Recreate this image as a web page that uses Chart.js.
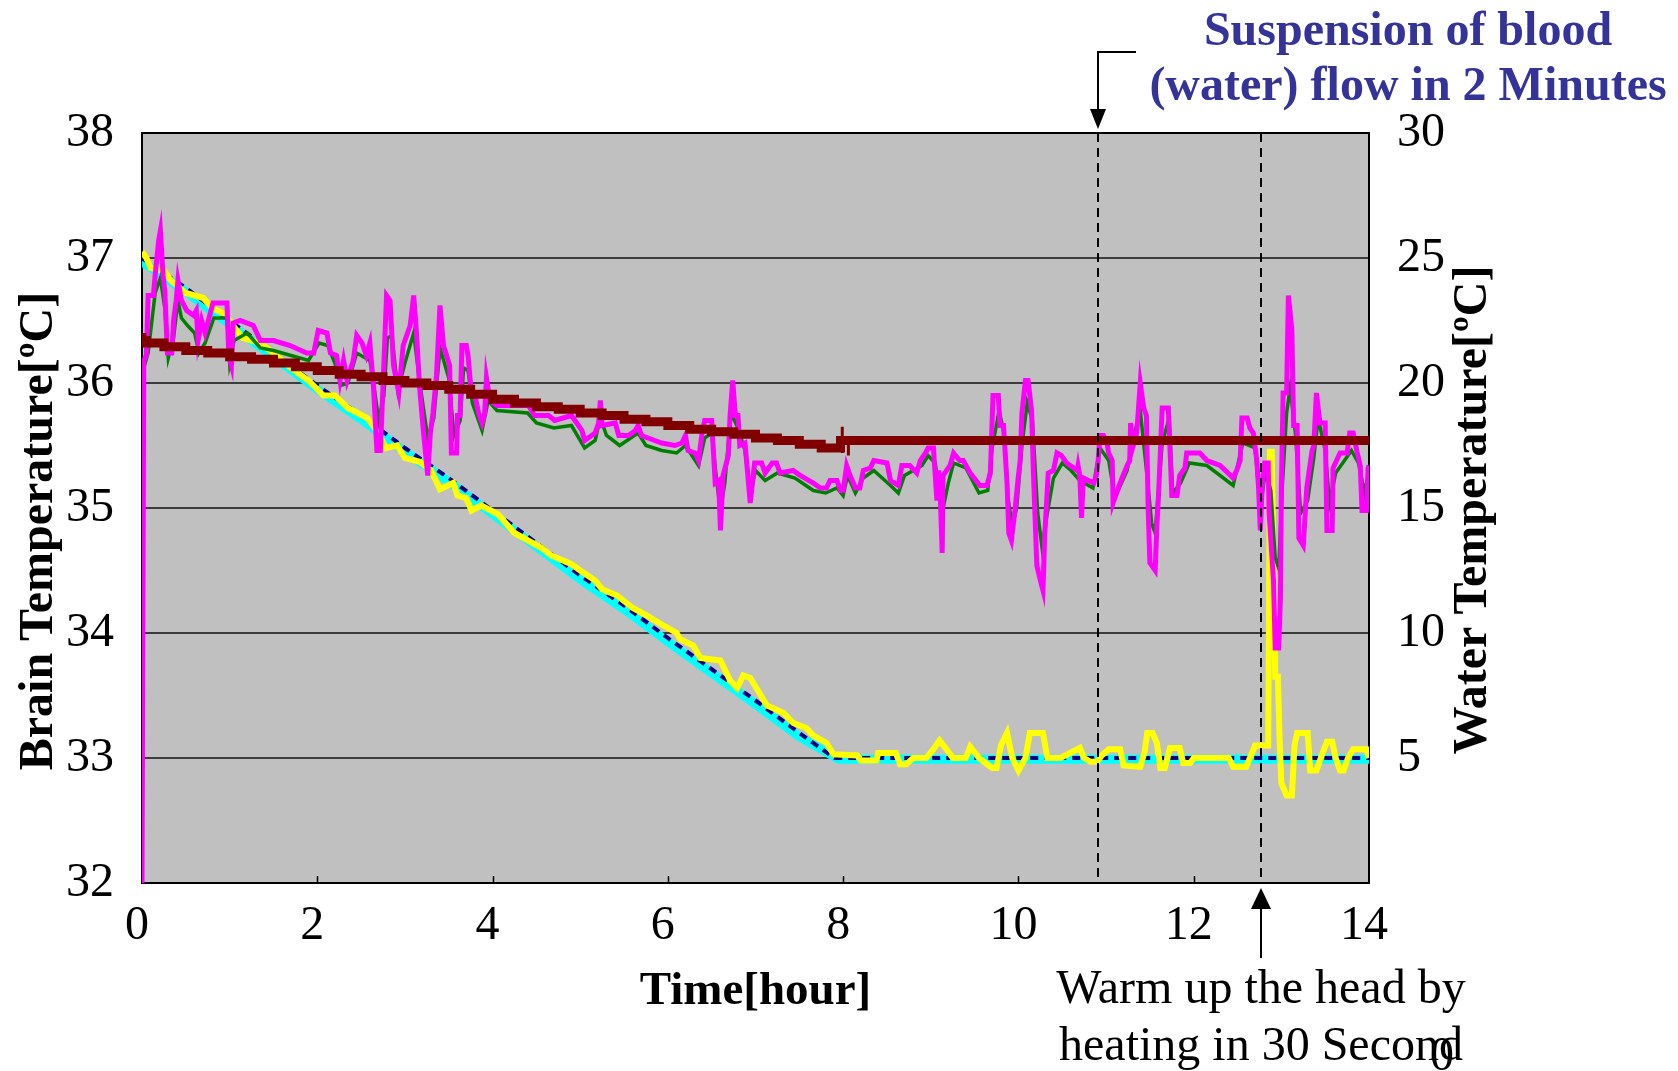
<!DOCTYPE html>
<html>
<head>
<meta charset="utf-8">
<script src="https://cdn.jsdelivr.net/npm/chart.js@4.4.1/dist/chart.umd.min.js"></script>
<style>
  html, body { margin: 0; padding: 0; background: #fff; }
  #wrap { width: 1678px; height: 1071px; }
</style>
</head>
<body>
<div id="wrap"><canvas id="chart" width="1678" height="1071"></canvas></div>
<script>
// --- data (time in hours) ---
// brain temperature sensors (left axis, degC)
var navyHours = [0, 0.5, 1, 1.5, 2, 2.5, 3, 3.5, 4, 4.5, 5, 5.5, 6, 6.5, 7, 7.5, 7.9, 14]
var navyTemp  = [37.0, 36.76, 36.5, 36.24, 35.98, 35.74, 35.48, 35.24, 34.98, 34.72, 34.46, 34.22, 33.96, 33.71, 33.46, 33.2, 33.0, 33.0]

var cyanHours = [0, 0.5, 1, 1.5, 2, 2.5, 3, 3.5, 4, 4.5, 5, 5.5, 6, 6.5, 7, 7.5, 7.95, 14]
var cyanTemp  = [36.97, 36.73, 36.47, 36.21, 35.95, 35.71, 35.45, 35.21, 34.95, 34.69, 34.43, 34.19, 33.93, 33.68, 33.43, 33.17, 32.99, 32.99]

var yellowHours = [0, 0.05, 0.1, 0.25, 0.33, 0.5, 0.7, 0.8, 0.95, 1.05,
  1.15, 1.35, 1.5, 1.7, 1.9, 2.0, 2.07, 2.2, 2.35, 2.57,
  2.7, 2.78, 2.91, 3.0, 3.17, 3.3, 3.4, 3.55, 3.6, 3.7,
  3.76, 3.87, 4.06, 4.25, 4.56, 4.67, 4.9, 5.0, 5.17, 5.25,
  5.42, 5.6, 5.76, 5.9, 6.1, 6.14, 6.29, 6.37, 6.6, 6.71,
  6.79, 6.86, 6.94, 7.13, 7.32, 7.43, 7.58, 7.66, 7.81, 7.89,
  8.16, 8.2, 8.38, 8.4, 8.6, 8.65, 8.72, 8.8, 8.95, 9.03,
  9.1, 9.18, 9.25, 9.4, 9.45, 9.55, 9.7, 9.75, 9.8, 9.87,
  9.93, 10.0, 10.08, 10.13, 10.28, 10.33, 10.48, 10.7, 10.75, 10.82,
  10.9, 10.95, 11.03, 11.16, 11.2, 11.39, 11.44, 11.47, 11.53, 11.58,
  11.62, 11.67, 11.73, 11.84, 11.88, 11.96, 12.0, 12.4, 12.45, 12.6,
  12.7, 12.85, 12.87, 12.89, 12.93, 12.96, 12.98, 13.0, 13.06, 13.12,
  13.15, 13.18, 13.3, 13.33, 13.4, 13.45, 13.52, 13.58, 13.62, 13.67,
  13.71, 13.76, 13.82, 13.97, 14.0]
var yellowTemp = [37.05, 37.0, 36.92, 36.9, 36.82, 36.72, 36.68, 36.6, 36.55, 36.45,
  36.36, 36.32, 36.24, 36.12, 36.02, 35.95, 35.9, 35.9, 35.8, 35.72,
  35.6, 35.48, 35.5, 35.4, 35.37, 35.3, 35.15, 35.2, 35.1, 35.08,
  34.98, 35.02, 34.95, 34.8, 34.68, 34.62, 34.55, 34.5, 34.42, 34.35,
  34.3, 34.2, 34.14, 34.08, 34.0, 33.95, 33.9, 33.8, 33.78, 33.62,
  33.56, 33.66, 33.64, 33.42, 33.36, 33.28, 33.24, 33.18, 33.12, 33.03,
  33.02, 32.98, 32.98, 33.04, 33.04, 32.95, 32.95, 33.0, 33.0, 33.07,
  33.14, 33.07, 33.0, 33.0, 33.09, 33.0, 32.92, 32.92, 33.1, 33.2,
  33.0, 32.9, 33.0, 33.2, 33.2, 33.0, 33.0, 33.08, 33.0, 32.97,
  32.97, 33.02, 33.07, 33.07, 32.94, 32.93, 33.05, 33.2, 33.2, 33.12,
  32.92, 32.92, 33.08, 33.08, 32.96, 32.96, 33.0, 33.0, 32.93, 32.93,
  33.1, 33.1, 35.45, 35.45, 33.65, 33.65, 33.15, 32.8, 32.7, 32.7,
  33.1, 33.2, 33.2, 32.9, 32.9, 33.0, 33.13, 33.13, 33.0, 32.9,
  32.9, 33.0, 33.07, 33.07, 33.0]

// water temperatures (right axis, degC)
var magentaHours = [0, 0.02, 0.05, 0.07, 0.13, 0.15, 0.19, 0.21, 0.24, 0.26,
  0.29, 0.34, 0.36, 0.39, 0.41, 0.45, 0.51, 0.59, 0.62, 0.64,
  0.68, 0.72, 0.78, 0.81, 0.97, 0.99, 1.02, 1.04, 1.12, 1.27,
  1.35, 1.5, 1.69, 1.88, 1.96, 2.01, 2.11, 2.15, 2.22, 2.26,
  2.3, 2.34, 2.41, 2.45, 2.51, 2.56, 2.6, 2.64, 2.68, 2.72,
  2.75, 2.79, 2.83, 2.87, 2.93, 2.98, 3.06, 3.1, 3.13, 3.17,
  3.21, 3.26, 3.29, 3.32, 3.36, 3.4, 3.44, 3.51, 3.53, 3.59,
  3.6, 3.63, 3.65, 3.7, 3.72, 3.76, 3.8, 3.84, 3.88, 3.91,
  3.93, 3.97, 4.05, 4.26, 4.41, 4.48, 4.64, 4.71, 4.9, 5.02,
  5.05, 5.17, 5.21, 5.23, 5.25, 5.4, 5.44, 5.55, 5.63, 5.66,
  5.7, 5.85, 5.93, 6.08, 6.16, 6.2, 6.23, 6.31, 6.35, 6.39,
  6.42, 6.5, 6.54, 6.58, 6.6, 6.63, 6.69, 6.71, 6.74, 6.77,
  6.8, 6.82, 6.88, 6.94, 6.99, 7.07, 7.11, 7.19, 7.24, 7.28,
  7.43, 7.51, 7.66, 7.74, 7.81, 7.85, 7.93, 7.97, 8.0, 8.04,
  8.08, 8.14, 8.19, 8.23, 8.31, 8.35, 8.5, 8.54, 8.63, 8.67,
  8.76, 8.84, 8.88, 8.94, 8.97, 9.03, 9.07, 9.09, 9.11, 9.13,
  9.14, 9.22, 9.26, 9.33, 9.37, 9.45, 9.56, 9.64, 9.68, 9.7,
  9.71, 9.77, 9.79, 9.83, 9.87, 9.89, 9.92, 9.96, 10.0, 10.02,
  10.04, 10.08, 10.11, 10.15, 10.17, 10.21, 10.25, 10.28, 10.3, 10.34,
  10.4, 10.44, 10.49, 10.55, 10.67, 10.68, 10.7, 10.72, 10.74, 10.86,
  10.89, 10.91, 10.93, 10.97, 11.01, 11.03, 11.07, 11.08, 11.12, 11.16,
  11.24, 11.27, 11.28, 11.31, 11.35, 11.39, 11.43, 11.46, 11.48, 11.5,
  11.56, 11.58, 11.6, 11.64, 11.71, 11.73, 11.75, 11.81, 11.84, 11.9,
  11.92, 12.07, 12.15, 12.3, 12.42, 12.45, 12.49, 12.53, 12.55, 12.61,
  12.64, 12.68, 12.72, 12.74, 12.76, 12.78, 12.81, 12.85, 12.86, 12.91,
  12.93, 12.97, 12.99, 13.0, 13.02, 13.06, 13.08, 13.12, 13.14, 13.18,
  13.2, 13.25, 13.29, 13.35, 13.37, 13.4, 13.44, 13.5, 13.52, 13.58,
  13.59, 13.67, 13.75, 13.78, 13.82, 13.86, 13.9, 13.92, 13.97, 13.99, 14.0]
var magentaWater = [0, 20.9, 21.1, 23.5, 23.5, 24.3, 25.7, 26.1, 24.3, 23.7,
  21.2, 21.2, 22.5, 23.3, 24.1, 23.3, 22.9, 22.7, 22.9, 21.7,
  22.5, 22.0, 22.8, 23.2, 23.2, 21.1, 20.7, 22.4, 22.5, 22.3,
  21.7, 21.7, 21.5, 21.2, 21.2, 22.1, 22.0, 21.2, 21.1, 20.1,
  20.9, 20.1, 20.9, 21.9, 21.6, 21.1, 21.6, 19.9, 17.3, 17.3,
  19.9, 23.5, 23.3, 20.7, 19.6, 21.5, 22.3, 23.5, 22.1, 19.7,
  18.1, 16.3, 18.0, 18.8, 20.3, 23.1, 21.5, 20.7, 17.2, 17.2,
  18.7, 18.7, 21.5, 21.5, 21.1, 19.5, 19.5, 18.8, 18.4, 18.8,
  20.2, 19.3, 19.1, 19.1, 19.1, 18.7, 18.7, 18.5, 18.7, 18.1,
  17.7, 18.0, 18.4, 19.3, 18.3, 18.4, 17.9, 17.9, 18.1, 18.3,
  17.9, 17.7, 17.6, 17.5, 17.6, 17.9, 17.3, 17.2, 16.9, 18.0,
  18.5, 18.5, 16.0, 16.1, 14.1, 16.3, 17.1, 18.7, 20.1, 18.7,
  18.7, 17.5, 17.6, 15.2, 16.8, 16.8, 16.4, 16.8, 16.8, 16.4,
  16.5, 16.3, 16.0, 15.8, 15.8, 16.1, 16.1, 15.7, 15.7, 16.7,
  16.3, 15.8, 15.8, 16.5, 16.6, 16.9, 16.8, 16.1, 15.9, 16.7,
  16.7, 16.4, 16.9, 17.2, 17.4, 17.4, 15.3, 16.5, 15.3, 13.2,
  16.3, 16.7, 17.2, 16.9, 16.9, 16.4, 15.9, 15.9, 16.4, 18.5,
  19.5, 19.5, 18.3, 18.3, 16.0, 14.0, 13.7, 14.9, 16.3, 16.9,
  18.8, 20.1, 20.1, 18.9, 16.5, 12.7, 12.1, 11.7, 13.9, 16.4,
  16.5, 17.2, 17.1, 16.8, 16.5, 16.7, 16.3, 14.6, 16.2, 16.0,
  16.3, 16.9, 17.9, 17.9, 17.6, 17.2, 16.9, 15.2, 15.6, 16.0,
  16.7, 16.9, 18.4, 17.5, 18.0, 20.0, 19.0, 18.7, 15.0, 12.8,
  12.5, 14.3, 15.6, 19.0, 19.0, 17.3, 15.5, 15.5, 16.3, 16.6,
  17.2, 17.2, 16.9, 16.7, 16.3, 16.2, 16.5, 16.9, 18.6, 18.6,
  18.2, 18.0, 16.9, 15.8, 14.1, 15.8, 16.8, 16.8, 14.8, 12.1,
  9.4, 9.4, 11.5, 15.8, 19.6, 19.6, 23.5, 22.1, 18.3, 18.3,
  13.8, 13.5, 15.8, 17.3, 17.5, 19.6, 18.4, 18.4, 14.1, 14.1,
  16.6, 17.2, 17.2, 18.0, 18.0, 17.3, 16.7, 14.9, 14.9, 16.6, 16.7]

var greenHours = [0.02, 0.07, 0.15, 0.21, 0.26, 0.3, 0.36, 0.41, 0.45, 0.52,
  0.6, 0.65, 0.72, 0.82, 0.97, 1.0, 1.05, 1.2, 1.35, 1.5,
  1.7, 1.9, 2.02, 2.12, 2.2, 2.27, 2.35, 2.45, 2.6, 2.65,
  2.7, 2.76, 2.8, 2.85, 2.92, 3.0, 3.1, 3.17, 3.26, 3.33,
  3.4, 3.5, 3.56, 3.63, 3.67, 3.72, 3.77, 3.88, 3.95, 4.05,
  4.4, 4.5, 4.7, 4.9, 5.05, 5.17, 5.23, 5.3, 5.45, 5.66,
  5.75, 5.93, 6.1, 6.2, 6.35, 6.42, 6.5, 6.56, 6.6, 6.65,
  6.72, 6.8, 6.88, 6.94, 7.0, 7.11, 7.25, 7.45, 7.66, 7.8,
  7.93, 8.0, 8.05, 8.14, 8.23, 8.35, 8.54, 8.63, 8.7, 8.9,
  8.97, 9.05, 9.1, 9.13, 9.2, 9.26, 9.4, 9.55, 9.65, 9.7,
  9.78, 9.84, 9.88, 9.93, 9.98, 10.04, 10.1, 10.16, 10.22, 10.27,
  10.32, 10.4, 10.5, 10.6, 10.7, 10.85, 10.93, 11.03, 11.1, 11.24,
  11.3, 11.39, 11.47, 11.52, 11.56, 11.64, 11.72, 11.76, 11.85, 11.95,
  12.15, 12.45, 12.56, 12.7, 12.76, 12.82, 12.88, 12.93, 12.97, 13.01,
  13.06, 13.1, 13.16, 13.22, 13.3, 13.37, 13.42, 13.5, 13.55, 13.62,
  13.7, 13.8, 13.88, 13.95, 14.0]
var greenWater = [20.6, 21.2, 23.6, 24.2, 23.0, 21.0, 21.8, 23.3, 22.6, 22.3,
  22.0, 21.2, 21.6, 22.6, 22.6, 20.8, 21.7, 22.0, 21.4, 21.3,
  21.1, 20.9, 21.6, 21.5, 20.8, 19.9, 20.0, 21.2, 20.9, 19.8,
  18.5, 19.5, 21.8, 21.9, 19.7, 20.8, 22.0, 20.0, 17.8, 18.6,
  21.4, 20.2, 17.9, 18.5, 20.6, 20.5, 19.2, 18.1, 19.3, 18.9,
  18.8, 18.4, 18.2, 18.3, 17.4, 17.7, 18.6, 17.9, 17.5, 18.0,
  17.5, 17.3, 17.2, 17.5, 16.7, 17.8, 18.0, 16.0, 14.9, 16.0,
  18.8, 18.2, 17.3, 15.6, 16.5, 16.1, 16.4, 16.2, 15.7, 15.6,
  15.8, 15.5, 16.3, 15.6, 16.2, 16.5, 15.9, 15.6, 16.3, 16.7,
  17.1, 16.8, 15.7, 14.8, 16.0, 16.8, 16.6, 15.6, 15.7, 17.4,
  18.9, 17.9, 15.4, 14.3, 15.0, 17.5, 19.2, 18.5, 14.8, 13.4,
  14.6, 16.2, 16.8, 16.5, 16.1, 15.8, 17.4, 16.9, 15.4, 16.5,
  17.6, 18.9, 16.2, 14.4, 14.0, 17.6, 18.6, 15.6, 16.0, 16.8,
  16.7, 15.9, 17.6, 17.4, 15.0, 16.5, 15.7, 13.0, 12.6, 15.8,
  18.8, 19.8, 18.0, 14.8, 15.3, 17.0, 18.6, 17.3, 15.2, 16.4,
  16.8, 17.3, 16.8, 15.6, 16.5]

var darkredHours = [0, 0.05, 0.25, 0.5, 0.75, 1.0, 1.25, 1.5, 1.75, 2.0,
  2.25, 2.5, 2.75, 3.0, 3.25, 3.5, 3.75, 4.0, 4.25, 4.5,
  4.75, 5.0, 5.25, 5.5, 5.75, 6.0, 6.25, 6.5, 6.75, 7.0,
  7.25, 7.5, 7.75, 7.97, 8.06, 14]
var darkredWater = [22.0, 21.7, 21.6, 21.45, 21.3, 21.2, 21.05, 20.95, 20.8, 20.65,
  20.5, 20.35, 20.25, 20.1, 20.0, 19.9, 19.75, 19.55, 19.35, 19.2,
  19.05, 18.95, 18.8, 18.7, 18.55, 18.45, 18.3, 18.15, 18.05, 17.95,
  17.8, 17.7, 17.55, 17.4, 17.7, 17.7]
// thin glitch marks on the dark red trace at 8 h
var glitchHours = [7.99, 7.99, 8.03, 8.06, 8.06]
var glitchWater = [17.2, 18.25, null, 17.1, 17.7]

// events
var suspendHour = 10.91
var warmHour = 12.77

var toPoints = (xs, ys) => xs.map((x, i) => ({x: x, y: ys[i]}))

var serif = 'Liberation Serif'

var decor = {
  id: 'decor',
  beforeDraw: function(chart) {
    var ctx = chart.ctx, a = chart.chartArea
    ctx.save()
    ctx.fillStyle = '#c0c0c0'
    ctx.fillRect(a.left, a.top, a.right - a.left, a.bottom - a.top)
    ctx.restore()
  },
  afterDatasetsDraw: function(chart) {
    var ctx = chart.ctx, a = chart.chartArea, xs = chart.scales.x
    ctx.save()
    // dashed event lines
    ctx.strokeStyle = '#000'
    ctx.lineWidth = 2
    ctx.setLineDash([9, 6])
    ;[suspendHour, warmHour].forEach(function(h) {
      var px = Math.round(xs.getPixelForValue(h))
      ctx.beginPath()
      ctx.moveTo(px, a.top)
      ctx.lineTo(px, a.bottom)
      ctx.stroke()
    })
    ctx.setLineDash([])
    // inner tick marks on x
    ctx.lineWidth = 1.5
    for (var h = 2; h < 14; h += 2) {
      var tx = Math.round(xs.getPixelForValue(h)) + 0.5
      ctx.beginPath()
      ctx.moveTo(tx, a.bottom)
      ctx.lineTo(tx, a.bottom - 7)
      ctx.stroke()
    }
    ctx.restore()
  },
  afterDraw: function(chart) {
    var ctx = chart.ctx, a = chart.chartArea, xs = chart.scales.x
    var sx = Math.round(xs.getPixelForValue(suspendHour))
    var wx = Math.round(xs.getPixelForValue(warmHour))
    ctx.save()
    ctx.strokeStyle = '#000'
    ctx.fillStyle = '#000'
    ctx.lineWidth = 2
    // arrow down to the suspension line
    ctx.beginPath()
    ctx.moveTo(sx + 38, 52)
    ctx.lineTo(sx, 52)
    ctx.lineTo(sx, 112)
    ctx.stroke()
    ctx.beginPath()
    ctx.moveTo(sx - 8, 109)
    ctx.lineTo(sx + 8, 109)
    ctx.lineTo(sx, a.top - 4)
    ctx.closePath()
    ctx.fill()
    // arrow up to the warm-up line
    ctx.beginPath()
    ctx.moveTo(wx, 958)
    ctx.lineTo(wx, 906)
    ctx.stroke()
    ctx.beginPath()
    ctx.moveTo(wx - 10, 909)
    ctx.lineTo(wx + 10, 909)
    ctx.lineTo(wx, a.bottom + 5)
    ctx.closePath()
    ctx.fill()

    // annotations
    ctx.textAlign = 'center'
    ctx.textBaseline = 'alphabetic'
    ctx.fillStyle = '#333399'
    ctx.font = 'bold 48px "' + serif + '"'
    ctx.fillText('Suspension of blood', 1408, 45)
    ctx.fillText('(water) flow in 2 Minutes', 1408, 100)
    ctx.fillStyle = '#000'
    ctx.font = '48px "' + serif + '"'
    ctx.fillText('Warm up the head by', wx, 1003)
    ctx.fillText('heating in 30 Second', wx, 1060)
    ctx.font = '48px "' + serif + '"'
    ctx.fillText('0', 1442, 1070)

    // axis titles, both reading bottom to top
    ctx.textBaseline = 'middle'
    ctx.font = 'bold 48px "' + serif + '"'
    ctx.save()
    ctx.translate(40, 531)
    ctx.rotate(-Math.PI / 2)
    ctx.fillText('Brain Temperature[ºC]', 0, 0)
    ctx.restore()
    ctx.translate(1474, 510)
    ctx.rotate(-Math.PI / 2)
    ctx.fillText('Water Temperature[ºC]', 0, 0)
    ctx.restore()
  }
}

Chart.defaults.font.family = serif
Chart.defaults.color = '#000'

new Chart(document.getElementById('chart'), {
  type: 'line',
  data: {
    datasets: [
      { label: 'Water (set)', data: toPoints(darkredHours, darkredWater), yAxisID: 'yW',
        borderColor: '#800000', borderWidth: 9, stepped: 'after' },
      { label: 'glitch', data: toPoints(glitchHours, glitchWater), yAxisID: 'yW',
        borderColor: '#800000', borderWidth: 3, spanGaps: false },
      { label: 'Water 1', data: toPoints(magentaHours, magentaWater), yAxisID: 'yW',
        borderColor: '#ff00ff', borderWidth: 5 },
      { label: 'Water 2', data: toPoints(greenHours, greenWater), yAxisID: 'yW',
        borderColor: '#008000', borderWidth: 3.5 },
      { label: 'Brain 3', data: toPoints(yellowHours, yellowTemp), yAxisID: 'y',
        borderColor: '#ffff00', borderWidth: 6 },
      { label: 'Brain 1', data: toPoints(navyHours, navyTemp), yAxisID: 'y',
        borderColor: '#000080', borderWidth: 4, borderDash: [8, 6] },
      { label: 'Brain 2', data: toPoints(cyanHours, cyanTemp), yAxisID: 'y',
        borderColor: '#00ffff', borderWidth: 9 }
    ]
  },
  options: {
    responsive: false,
    animation: false,
    elements: { point: { radius: 0 }, line: { tension: 0, borderJoinStyle: 'miter', fill: false } },
    layout: { padding: { top: 133, left: 0, right: 0, bottom: 0 } },
    plugins: { legend: { display: false }, tooltip: { enabled: false } },
    scales: {
      x: {
        type: 'linear', min: 0, max: 14,
        ticks: { stepSize: 2, font: { size: 48 }, padding: 15, labelOffset: -5, maxRotation: 0, autoSkip: false },
        grid: { display: false, drawTicks: false },
        border: { display: true, color: '#000', width: 2 },
        title: { display: true, text: 'Time[hour]', font: { size: 47, weight: 'bold' }, padding: { top: 0, bottom: 51 } },
        afterFit: function(s) { s.height = 188 }
      },
      y: {
        position: 'left', min: 32, max: 38,
        ticks: { stepSize: 1, font: { size: 48 }, padding: 28 },
        grid: { color: function(c) { return c.tick && c.tick.value === 38 ? '#000' : '#3c3c3c' }, lineWidth: 2, drawTicks: false },
        border: { color: '#000', width: 2 },
        afterFit: function(s) { s.width = 142 }
      },
      yW: {
        position: 'right', min: 0, max: 30,
        ticks: { stepSize: 5, font: { size: 48 }, padding: 28, callback: function(v) { return v === 0 ? '' : v } },
        grid: { display: false, drawTicks: false },
        border: { color: '#000', width: 2 },
        afterFit: function(s) { s.width = 309 }
      }
    }
  },
  plugins: [decor]
})
</script>
</body>
</html>
